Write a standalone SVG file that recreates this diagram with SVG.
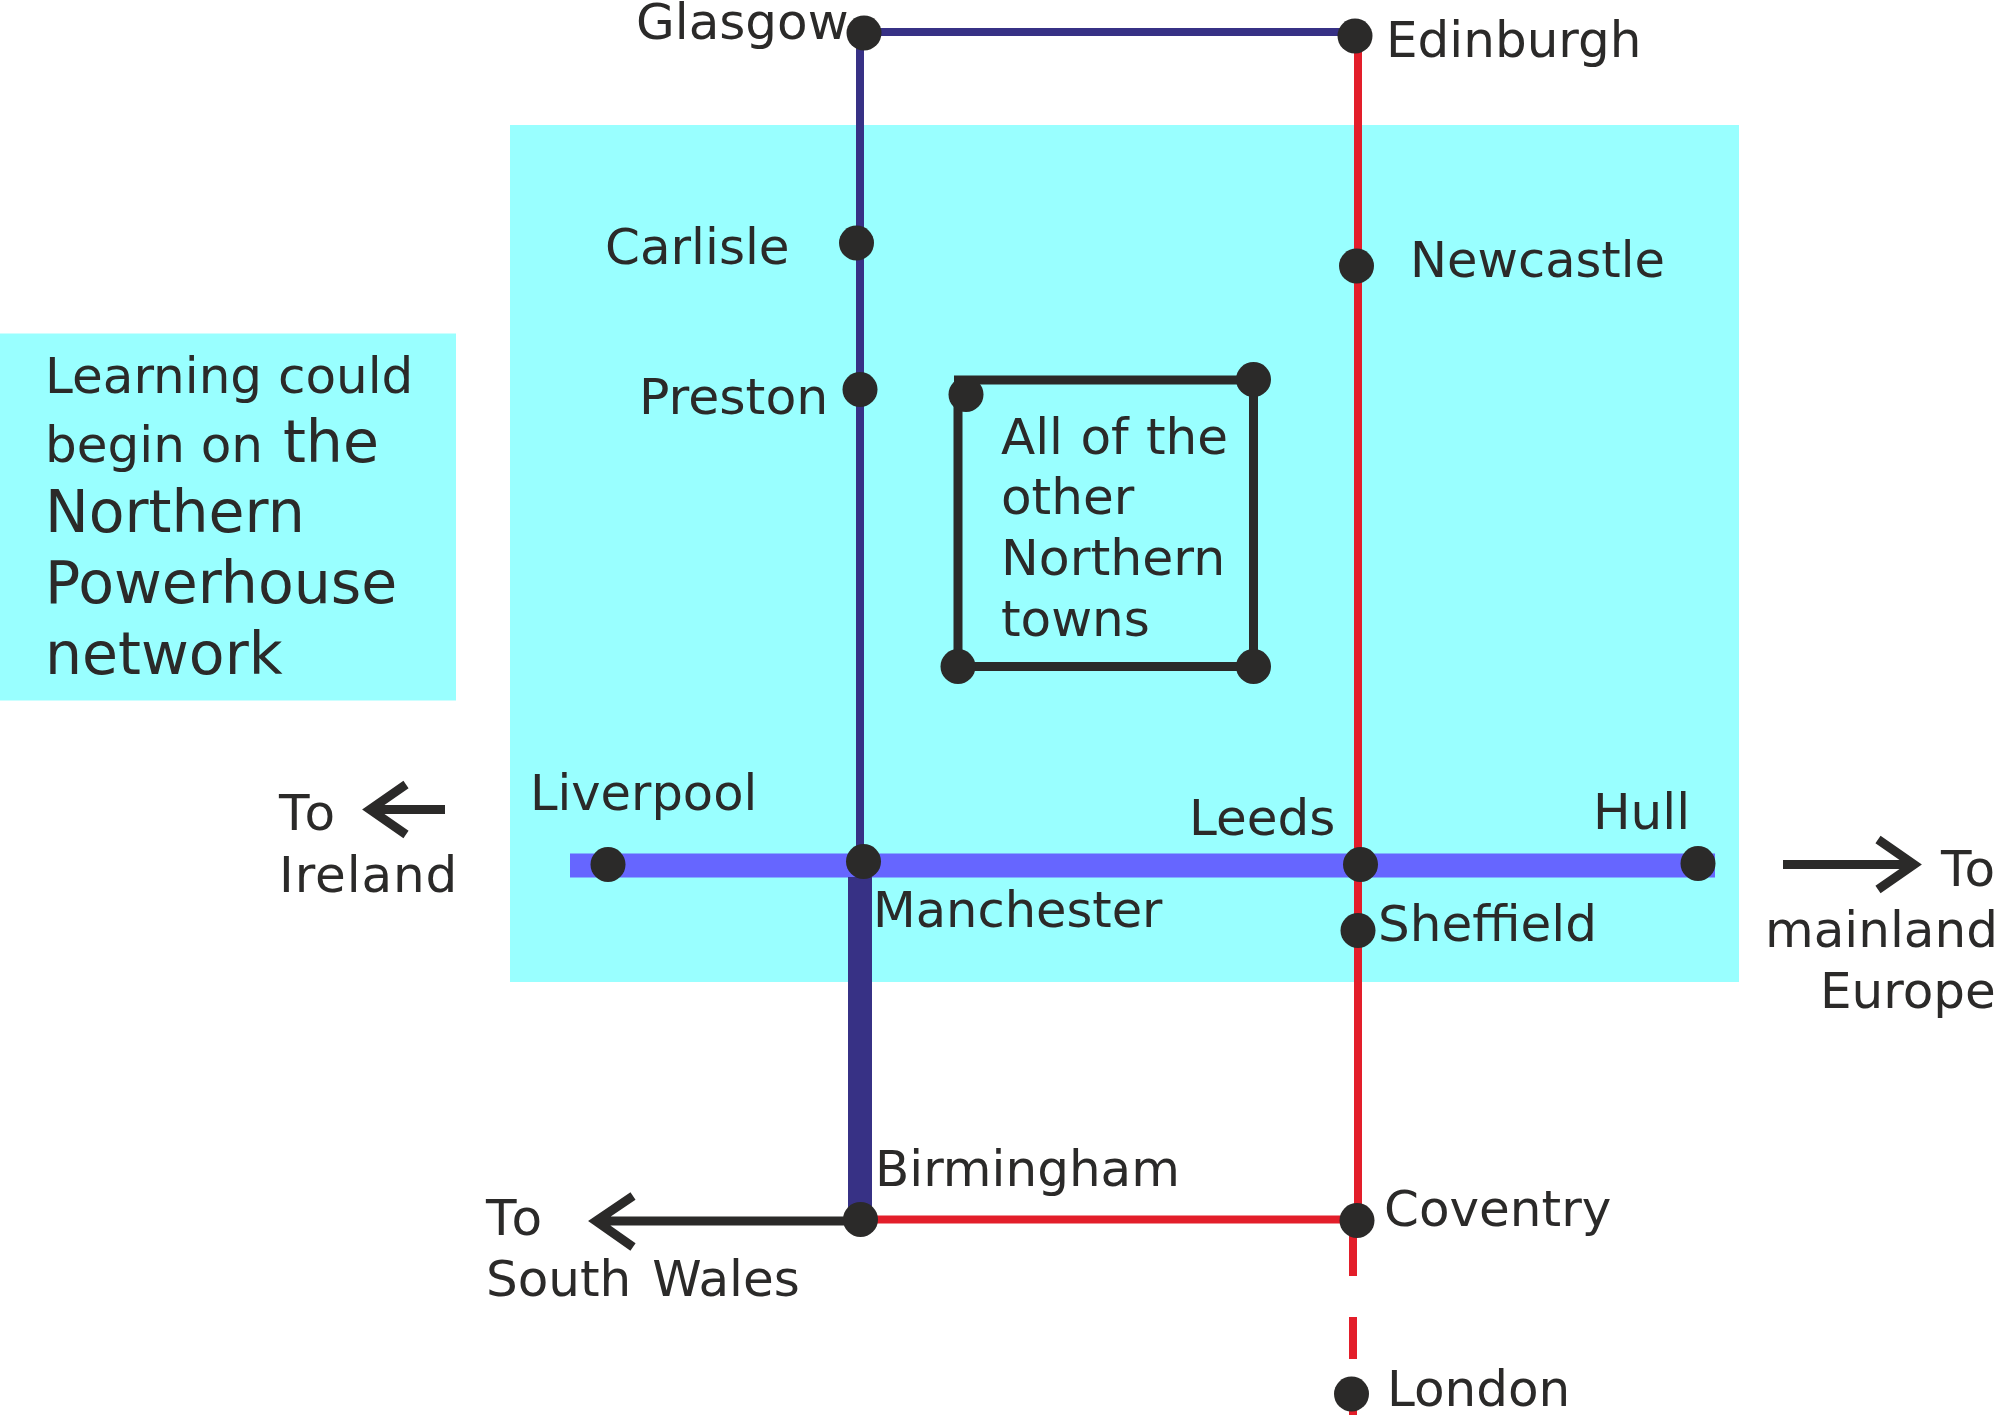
<svg xmlns="http://www.w3.org/2000/svg" width="1994" height="1415" viewBox="0 0 1994 1415">
<defs><style>
text{font-family:"DejaVu Sans",Verdana,sans-serif;font-size:50px;fill:#2b2a29}
.big{font-size:58.500px}
.ws{word-spacing:5px}
.ws2{word-spacing:1.500px}
.to{letter-spacing:3.500px}
.sm{font-size:49.500px}
.lg{font-size:50.500px}
.dot{fill:#2b2a29}
.blue{stroke:#373185;stroke-width:8;fill:none}
.red{stroke:#e31e2a;stroke-width:8;fill:none}
.blk{stroke:#2b2a29;stroke-width:9;fill:none}
.panel{fill:#99ffff}
</style></defs>
<rect width="1994" height="1415" fill="#fff"/>
<g id="panels">
<rect class="panel" x="510" y="125" width="1229" height="857"/>
<rect class="panel" x="0" y="333.500" width="456" height="367"/>
</g>
<g id="connectors">
<path class="blue" d="M860 33V870M864 32H1354"/>
<path class="red" d="M1358 36V1220M860 1219.500H1357"/>
<path class="red" d="M1353 1234V1415" stroke-dasharray="42 41"/>
<path d="M570 865.500H1715" stroke="#6666ff" stroke-width="24" fill="none"/>
<path d="M860 877V1219" stroke="#373185" stroke-width="24" fill="none"/>
<path class="blk" d="M860 1221H596M633 1196L596 1221L633 1247"/>
<path class="blk" d="M445 809.500H370M406 784.500L370 809.500L406 834.500"/>
<path class="blk" d="M1783 864.500H1914M1878 839.500L1914 864.500L1878 889.500"/>
<path class="blk" d="M954 380H1253.500V666.500H958V390"/>
</g>
<g id="glasgow"><circle class="dot" cx="864" cy="33" r="17.500"/><text x="636" y="39">Glasgow</text></g>
<g id="edinburgh"><circle class="dot" cx="1355" cy="36" r="17.500"/><text x="1386" y="57">Edinburgh</text></g>
<g id="carlisle"><circle class="dot" cx="856.500" cy="243" r="17.500"/><text x="605" y="264">Carlisle</text></g>
<g id="newcastle"><circle class="dot" cx="1356.500" cy="266" r="17.500"/><text class="sm" x="1410" y="277">Newcastle</text></g>
<g id="preston"><circle class="dot" cx="860" cy="389.500" r="17.500"/><text class="lg" x="639" y="414">Preston</text></g>
<g id="other-towns">
<circle class="dot" cx="966" cy="394.500" r="17.500"/><circle class="dot" cx="1253.500" cy="379.500" r="17.500"/>
<circle class="dot" cx="958" cy="666.500" r="17.500"/><circle class="dot" cx="1253.500" cy="666.500" r="17.500"/>
<text class="ws2" x="1001" y="453.500">All of the</text><text x="1001" y="514">other</text><text class="lg" x="1001" y="575">Northern</text><text x="1001" y="636">towns</text>
</g>
<g id="liverpool"><circle class="dot" cx="608" cy="864.500" r="17.500"/><text class="sm" x="530" y="809.500">Liverpool</text></g>
<g id="manchester"><circle class="dot" cx="863.500" cy="861.500" r="17.500"/><text class="sm" x="873" y="926.500">Manchester</text></g>
<g id="leeds"><circle class="dot" cx="1360.500" cy="864.500" r="17.500"/><text x="1189" y="835">Leeds</text></g>
<g id="hull"><circle class="dot" cx="1698" cy="863.500" r="17.500"/><text x="1593" y="828.500">Hull</text></g>
<g id="sheffield"><circle class="dot" cx="1358" cy="930.500" r="17.500"/><text x="1378" y="941">Sheffield</text></g>
<g id="birmingham"><circle class="dot" cx="860.500" cy="1219.500" r="17.500"/><text x="875" y="1186">Birmingham</text></g>
<g id="coventry"><circle class="dot" cx="1357" cy="1220.500" r="17.500"/><text x="1384" y="1226">Coventry</text></g>
<g id="london"><circle class="dot" cx="1351.500" cy="1394" r="17.500"/><text x="1387" y="1406">London</text></g>
<g id="to-ireland"><text class="to" x="279" y="830">To</text><text x="279" y="891.500" style="letter-spacing:.9px">Ireland</text></g>
<g id="to-south-wales"><text class="to" x="486" y="1235">To</text><text class="ws" x="486" y="1296">South Wales</text></g>
<g id="to-europe"><text x="1941" y="886" style="letter-spacing:1.500px">To</text><text x="1765" y="947">mainland</text><text x="1820" y="1008">Europe</text></g>
<g id="note">
<text x="45" y="392.500">Learning could</text>
<text x="45" y="461.500">begin on <tspan class="big" dx="4">the</tspan></text>
<text class="big" x="45" y="532">Northern</text>
<text class="big" x="45" y="603">Powerhouse</text>
<text class="big" x="45" y="674">network</text>
</g>
</svg>
